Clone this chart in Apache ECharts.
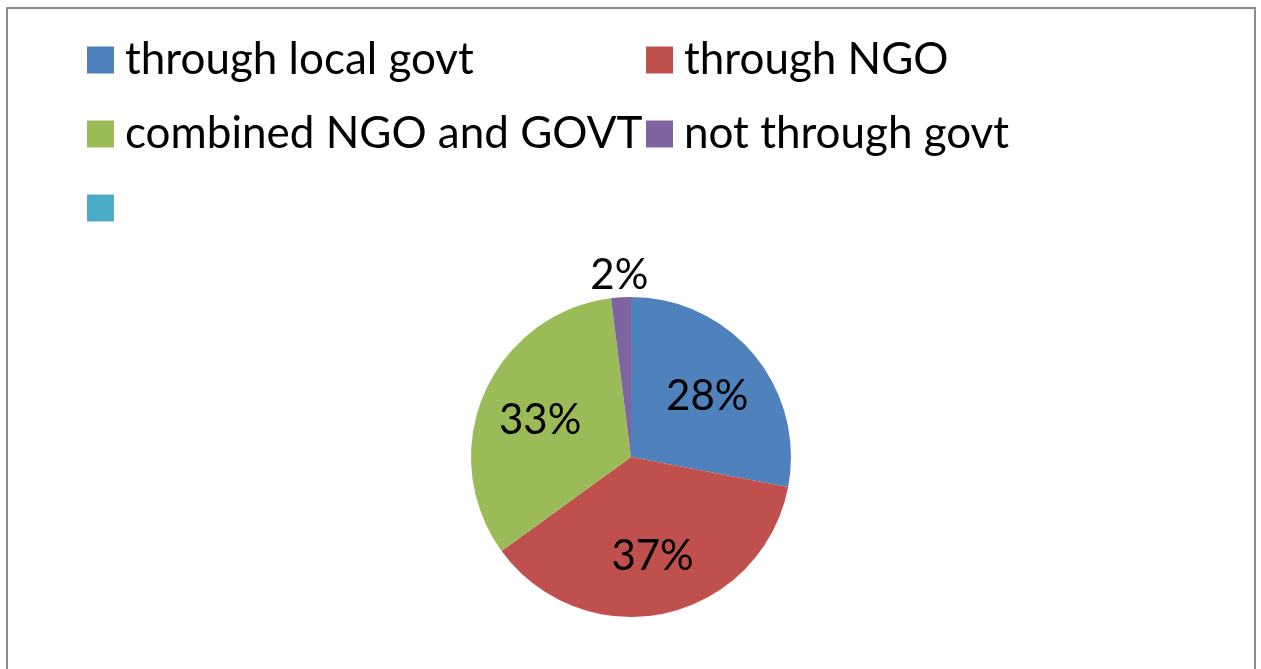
<!DOCTYPE html>
<html>
<head>
<meta charset="utf-8">
<script src="https://cdn.jsdelivr.net/npm/echarts@6/dist/echarts.min.js"></script>
<style>
html,body{margin:0;padding:0;background:#fff;}
#chart{width:1261px;height:669px;}
</style>
</head>
<body>
<div id="chart"></div>
<script>
// ---- data ----
const categories = ['through local govt', 'through NGO', 'combined NGO and GOVT', 'not through govt', ' '];
const values = [28, 37, 33, 2, 0];
const colors = ['#4F81BD', '#C0504D', '#9BBB59', '#8064A2', '#4BACC6'];
const legendLeftColumn = ['through local govt', 'combined NGO and GOVT', ' '];
const legendRightColumn = ['through NGO', 'not through govt'];

// ---- layout/style ----
const FONT = 'Lato';
const CX = 631, CY = 457, R = 160;
const labelRadius = [99, 99, 99, 185, 0];

const total = values.reduce((a, b) => a + b, 0);
function midAngle(i) {
  let cum = 0;
  for (let k = 0; k < i; k++) cum += values[k];
  const frac = (cum + values[i] / 2) / total;
  return (90 - frac * 360) * Math.PI / 180;
}

const chart = echarts.init(document.getElementById('chart'), null, {renderer: 'canvas'});

const legendCommon = {
  orient: 'vertical',
  top: 36,
  padding: 0,
  itemWidth: 27,
  itemHeight: 27,
  itemGap: 26,
  icon: 'rect',
  selectedMode: false,
  textStyle: {fontFamily: FONT, fontSize: 44, color: '#000', lineHeight: 48, padding: [0, 0, 0, 6]}
};

chart.setOption({
  animation: false,
  backgroundColor: '#fff',
  color: colors,
  legend: [
    Object.assign({}, legendCommon, {left: 87, data: legendLeftColumn}),
    Object.assign({}, legendCommon, {left: 646, data: legendRightColumn})
  ],
  graphic: [{
    type: 'rect',
    shape: {x: 7, y: 8, width: 1248, height: 700},
    style: {fill: 'none', stroke: '#8c8c8c', lineWidth: 2},
    silent: true,
    z: -1
  }],
  series: [{
    type: 'pie',
    center: [CX, CY],
    radius: [0, R],
    startAngle: 90,
    clockwise: true,
    percentPrecision: 0,
    silent: true,
    itemStyle: {borderWidth: 0},
    label: {
      show: true,
      position: 'inside',
      formatter: '{d}%',
      fontFamily: FONT,
      fontSize: 42,
      color: '#000'
    },
    labelLine: {show: false},
    labelLayout: function (params) {
      const i = params.dataIndex;
      const a = midAngle(i);
      return {
        x: CX + labelRadius[i] * Math.cos(a),
        y: CY - labelRadius[i] * Math.sin(a) + 3,
        align: 'center',
        verticalAlign: 'middle'
      };
    },
    data: categories.map((name, i) => ({
      name: name,
      value: values[i],
      label: values[i] === 0 ? {show: false} : undefined
    }))
  }]
});
</script>
</body>
</html>
